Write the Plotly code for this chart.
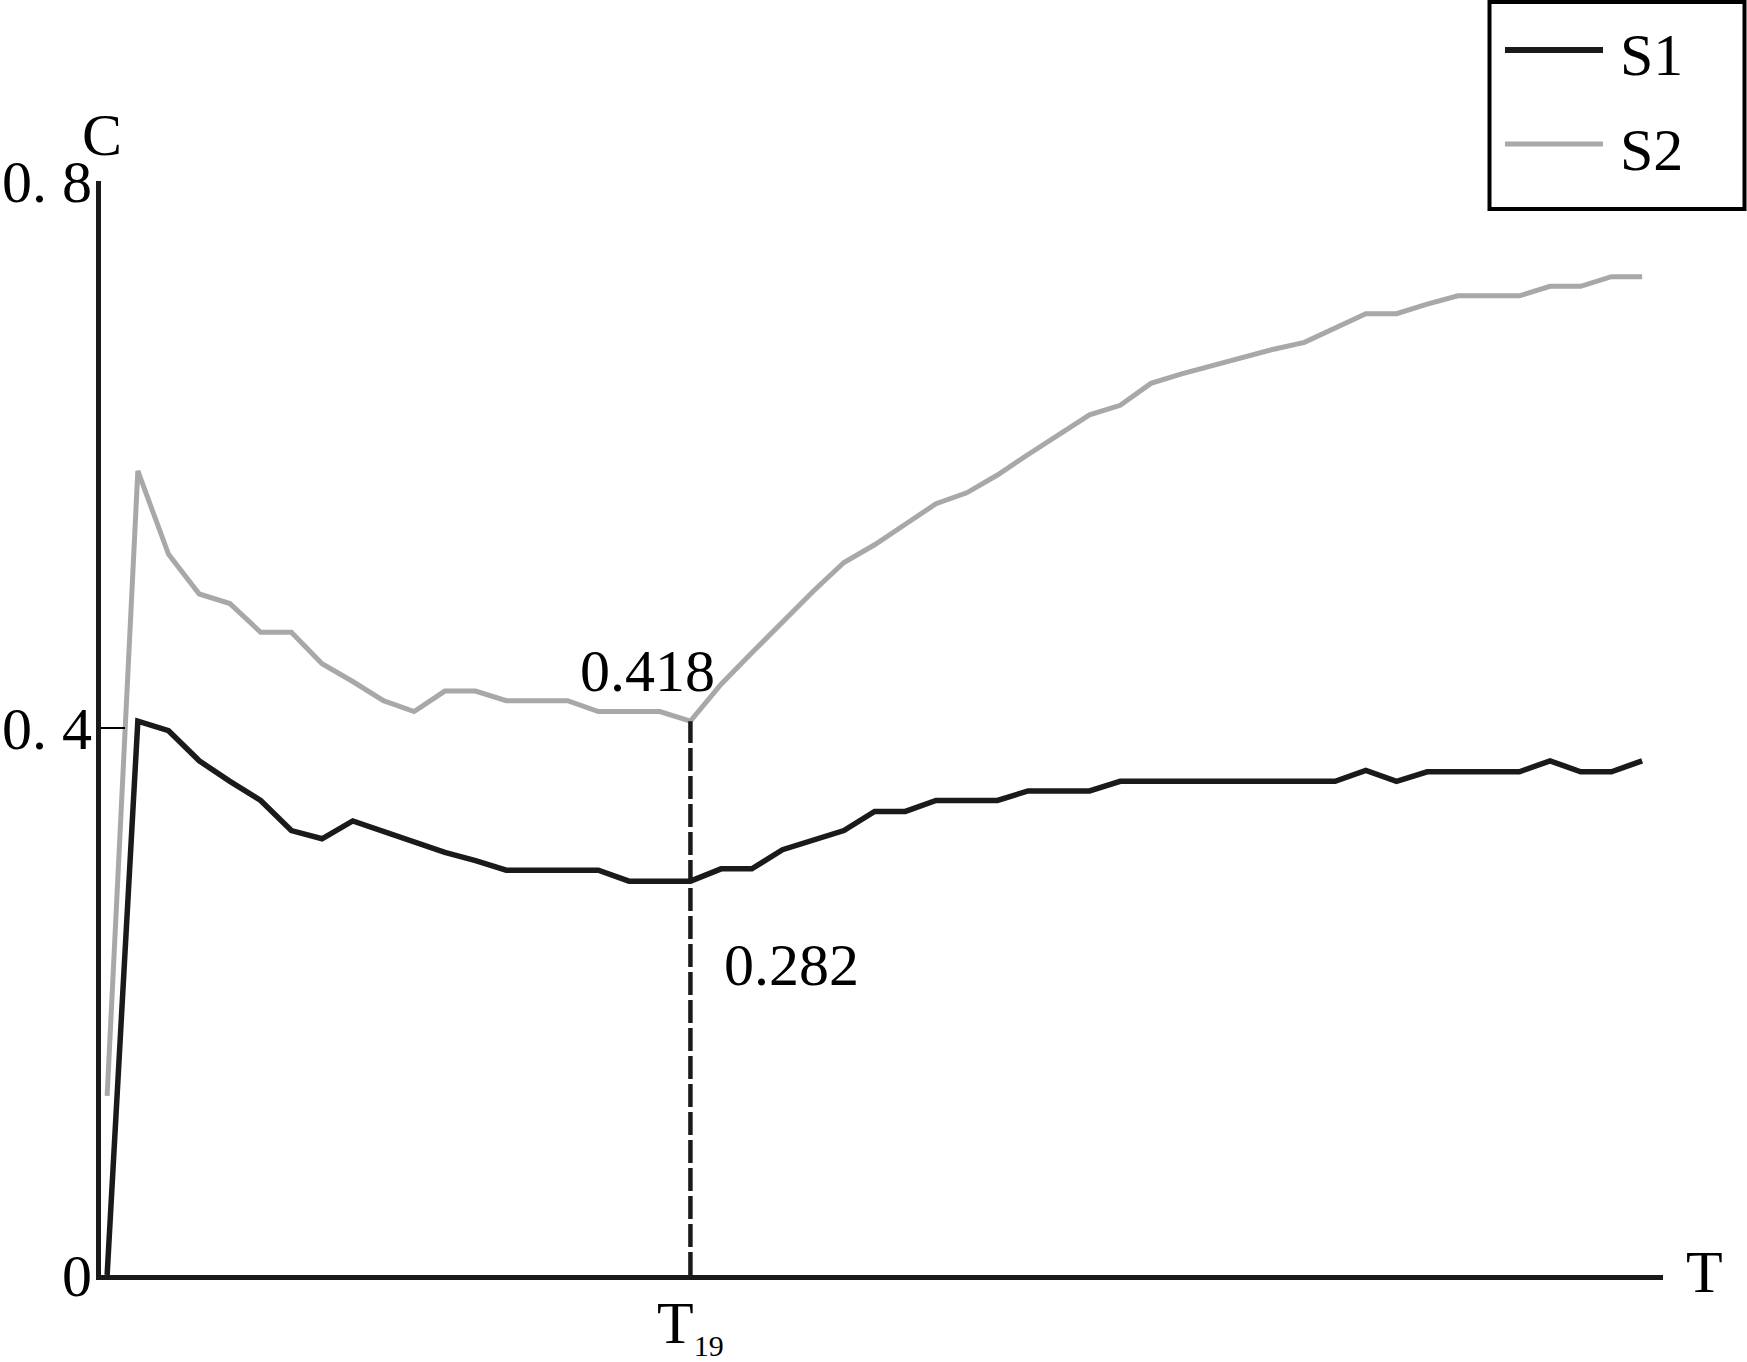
import plotly.graph_objects as go

# ---- data ----
T = list(range(51))
S1 = [0.000, 0.405, 0.398, 0.376, 0.361, 0.347, 0.325, 0.319, 0.332, 0.324,
      0.316, 0.309, 0.303, 0.296, 0.296, 0.296, 0.296, 0.288, 0.288, 0.288,
      0.297, 0.297, 0.311, 0.318, 0.325, 0.339, 0.339, 0.347, 0.347, 0.347,
      0.354, 0.354, 0.354, 0.361, 0.361, 0.361, 0.361, 0.361, 0.361, 0.361,
      0.361, 0.369, 0.361, 0.368, 0.368, 0.368, 0.368, 0.376, 0.368, 0.368,
      0.376]
S2 = [0.131, 0.588, 0.527, 0.498, 0.491, 0.470, 0.470, 0.447, 0.434, 0.420,
      0.412, 0.427, 0.427, 0.420, 0.420, 0.420, 0.412, 0.412, 0.412, 0.405,
      0.432, 0.455, 0.478, 0.500, 0.521, 0.534, 0.549, 0.564, 0.572, 0.585,
      0.600, 0.615, 0.629, 0.636, 0.652, 0.659, 0.665, 0.671, 0.677, 0.682,
      0.693, 0.703, 0.703, 0.710, 0.716, 0.716, 0.716, 0.723, 0.723, 0.730,
      0.730]
series_names = ["S1", "S2"]
y_tickvals = [0, 0.4, 0.8]
y_ticktext = ["0", "0. 4", "0. 8"]
mark_index = 19
mark_labels = ["0.418", "0.282"]
x_tick_text = "T<sub><span style='font-size:30px'>19</span></sub>"

# ---- layout geometry ----
W, H = 1747, 1362
ML, MR, MT, MB = 101, 84, 181, 87
PW, PH = W - ML - MR, H - MT - MB


def px(xp):
    return (xp - ML) / PW


def py(yp):
    return (H - MB - yp) / PH


FONT = "Liberation Serif, Times New Roman, serif"
DARK = "#1a1a1a"
GREY = "#a8a8a8"
FS = 60

fig = go.Figure()
fig.add_trace(go.Scatter(x=T, y=S2, mode="lines", name=series_names[1],
                         line=dict(color=GREY, width=5), showlegend=False))
fig.add_trace(go.Scatter(x=T, y=S1, mode="lines", name=series_names[0],
                         line=dict(color=DARK, width=5.5), showlegend=False))
fig.add_trace(go.Scatter(x=[T[mark_index], T[mark_index]], y=[0, S2[mark_index]],
                         mode="lines", line=dict(color=DARK, width=4.5, dash="23px,5px"),
                         showlegend=False, hoverinfo="skip"))

fig.update_layout(
    template="none",
    width=W, height=H,
    margin=dict(l=ML, r=MR, t=MT, b=MB, autoexpand=False),
    paper_bgcolor="white", plot_bgcolor="white",
    font=dict(family=FONT, size=FS, color="black"),
    showlegend=False,
    xaxis=dict(range=[-0.2, 50.68], showgrid=False, zeroline=False, automargin=False,
               showline=True, linecolor=DARK, linewidth=5,
               tickmode="array", tickvals=[T[mark_index]], ticktext=[x_tick_text],
               ticks="", ticklabelstandoff=-9,
               tickfont=dict(family=FONT, size=FS, color="black")),
    yaxis=dict(range=[0, 0.8], showgrid=False, zeroline=False, automargin=False,
               showline=True, linecolor=DARK, linewidth=5,
               tickmode="array", tickvals=y_tickvals, ticktext=y_ticktext,
               ticks="inside", ticklen=24, tickwidth=1.5, tickcolor="black",
               ticklabelstandoff=-8,
               tickfont=dict(family=FONT, size=FS, color="black")),
)

# axis titles
fig.add_annotation(x=px(102), y=py(135), xref="paper", yref="paper", text="C",
                   showarrow=False, xanchor="center", yanchor="middle",
                   font=dict(family=FONT, size=FS, color="black"))
fig.add_annotation(x=px(1704), y=py(1272), xref="paper", yref="paper", text="T",
                   showarrow=False, xanchor="center", yanchor="middle",
                   font=dict(family=FONT, size=FS, color="black"))

# value labels at the marked point
fig.add_annotation(x=T[mark_index], y=S2[mark_index], text=mark_labels[0],
                   showarrow=False, xanchor="center", yanchor="middle",
                   xshift=-43, yshift=50,
                   font=dict(family=FONT, size=FS, color="black"))
fig.add_annotation(x=T[mark_index], y=S1[mark_index], text=mark_labels[1],
                   showarrow=False, xanchor="center", yanchor="middle",
                   xshift=101, yshift=-84,
                   font=dict(family=FONT, size=FS, color="black"))

# legend (box, sample lines, labels)
fig.add_shape(type="rect", xref="paper", yref="paper",
              x0=px(1489.5), x1=px(1744.5), y0=py(209), y1=py(2),
              line=dict(color="black", width=4), fillcolor="rgba(0,0,0,0)")
fig.add_shape(type="line", xref="paper", yref="paper",
              x0=px(1505), x1=px(1603), y0=py(50), y1=py(50),
              line=dict(color=DARK, width=6))
fig.add_shape(type="line", xref="paper", yref="paper",
              x0=px(1505), x1=px(1603), y0=py(144), y1=py(144),
              line=dict(color=GREY, width=5))
fig.add_annotation(x=px(1618), y=py(55), xref="paper", yref="paper", text=series_names[0],
                   showarrow=False, xanchor="left", yanchor="middle",
                   font=dict(family=FONT, size=FS, color="black"))
fig.add_annotation(x=px(1618), y=py(150), xref="paper", yref="paper", text=series_names[1],
                   showarrow=False, xanchor="left", yanchor="middle",
                   font=dict(family=FONT, size=FS, color="black"))

fig.write_html("out.html", config={"displayModeBar": False},
               post_script="document.body.style.margin='0';document.body.style.overflow='hidden';")
